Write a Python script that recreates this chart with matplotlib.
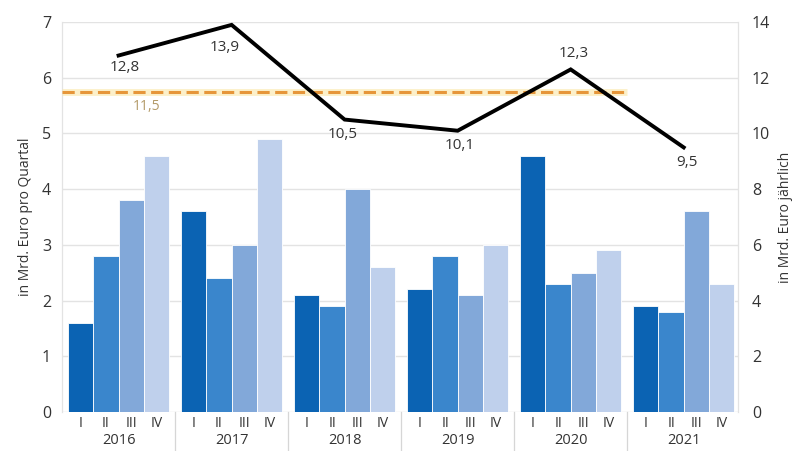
import matplotlib
matplotlib.use("Agg")
import matplotlib.pyplot as plt
import numpy as np

plt.rcParams["font.family"] = ["Open Sans", "DejaVu Sans"]

# Quartalswerte in Mrd. Euro, Jahressummen rechts
years = ["2016", "2017", "2018", "2019", "2020", "2021"]
quarters = ["I", "II", "III", "IV"]
q1 = [1.6, 3.6, 2.1, 2.2, 4.6, 1.9]
q2 = [2.8, 2.4, 1.9, 2.8, 2.3, 1.8]
q3 = [3.8, 3.0, 4.0, 2.1, 2.5, 3.6]
q4 = [4.6, 4.9, 2.6, 3.0, 2.9, 2.3]
annual = [12.8, 13.9, 10.5, 10.1, 12.3, 9.5]
annual_labels = ["12,8", "13,9", "10,5", "10,1", "12,3", "9,5"]
avg_value = 11.5
avg_label = "11,5"

colors = ["#0b63b3", "#3a86cc", "#82a8d9", "#bfd0ec"]
text_col = "#333333"
grid_col = "#e3e3e3"

fig = plt.figure(figsize=(8.06, 4.51), dpi=100)
ax = fig.add_axes([0.077, 0.0865, 0.8386, 0.8645])
ax2 = ax.twinx()

n = len(years)
xg = np.arange(n)
w = 0.2235
for qi, vals in enumerate([q1, q2, q3, q4]):
    ax.bar(xg + (qi - 1.5) * w, vals, width=w, color=colors[qi],
           edgecolor="white", linewidth=0.6, zorder=3)

ax.set_xlim(-0.5, n - 0.52)
ax.set_ylim(0, 7)
ax.set_yticks(range(8))
ax.yaxis.grid(True, color=grid_col, lw=1.0, zorder=0)
ax.set_axisbelow(True)
ax.tick_params(axis="y", length=0, labelsize=11.5, colors=text_col, pad=8)
ax.set_ylabel("in Mrd. Euro pro Quartal", fontsize=10, color=text_col, labelpad=6)

# Quartalsbeschriftung und Jahre unter den Gruppen
qx = [g + (qi - 1.5) * w for g in xg for qi in range(4)]
ax.set_xticks(qx)
ax.set_xticklabels(quarters * n, fontsize=10, color=text_col)
ax.tick_params(axis="x", length=0, pad=3)
for g, y in zip(xg, years):
    ax.text(g, -0.073, y, transform=ax.get_xaxis_transform(), ha="center",
            va="center", fontsize=10.5, color=text_col)
for g in range(1, n):
    ax.plot([g - 0.5, g - 0.5], [0, -0.11], transform=ax.get_xaxis_transform(),
            color="#d6d6d6", lw=0.9, clip_on=False)

for side in ["top", "bottom"]:
    ax.spines[side].set_visible(False)
    ax2.spines[side].set_visible(False)
for side in ["left", "right"]:
    ax.spines[side].set_color(grid_col)
    ax2.spines[side].set_color(grid_col)

# Jahreswerte und Durchschnitt auf der rechten Achse
ax2.set_ylim(0, 14)
ax2.set_yticks(range(0, 15, 2))
ax2.tick_params(axis="y", length=0, labelsize=11.5, colors=text_col, pad=10)
ax2.set_ylabel("in Mrd. Euro jährlich", fontsize=10, color=text_col, labelpad=6)

ax2.plot([-0.5, 4.5], [avg_value, avg_value], color="#fbe7a8", lw=5, alpha=0.6,
         solid_capstyle="butt", zorder=4)
ax2.plot([-0.5, 4.5], [avg_value, avg_value], color="#e6963a", lw=2.2,
         dashes=(4, 1.8), zorder=5)
ax2.text(0.25, avg_value - 0.25, avg_label, ha="center", va="top", fontsize=10,
         color="#b39a68", zorder=6)

ax2.plot(xg, annual, color="black", lw=2.8, zorder=6, solid_joinstyle="miter")
offsets = [(0.05, -0.43), (-0.06, -0.82), (-0.02, -0.54),
           (0.02, -0.54), (0.03, 0.57), (0.03, -0.54)]
for g, v, lab, (dx, dy) in zip(xg, annual, annual_labels, offsets):
    ax2.text(g + dx, v + dy, lab, ha="center", va="center", fontsize=11,
             color=text_col, zorder=7)

fig.savefig("out.png", dpi=100)
